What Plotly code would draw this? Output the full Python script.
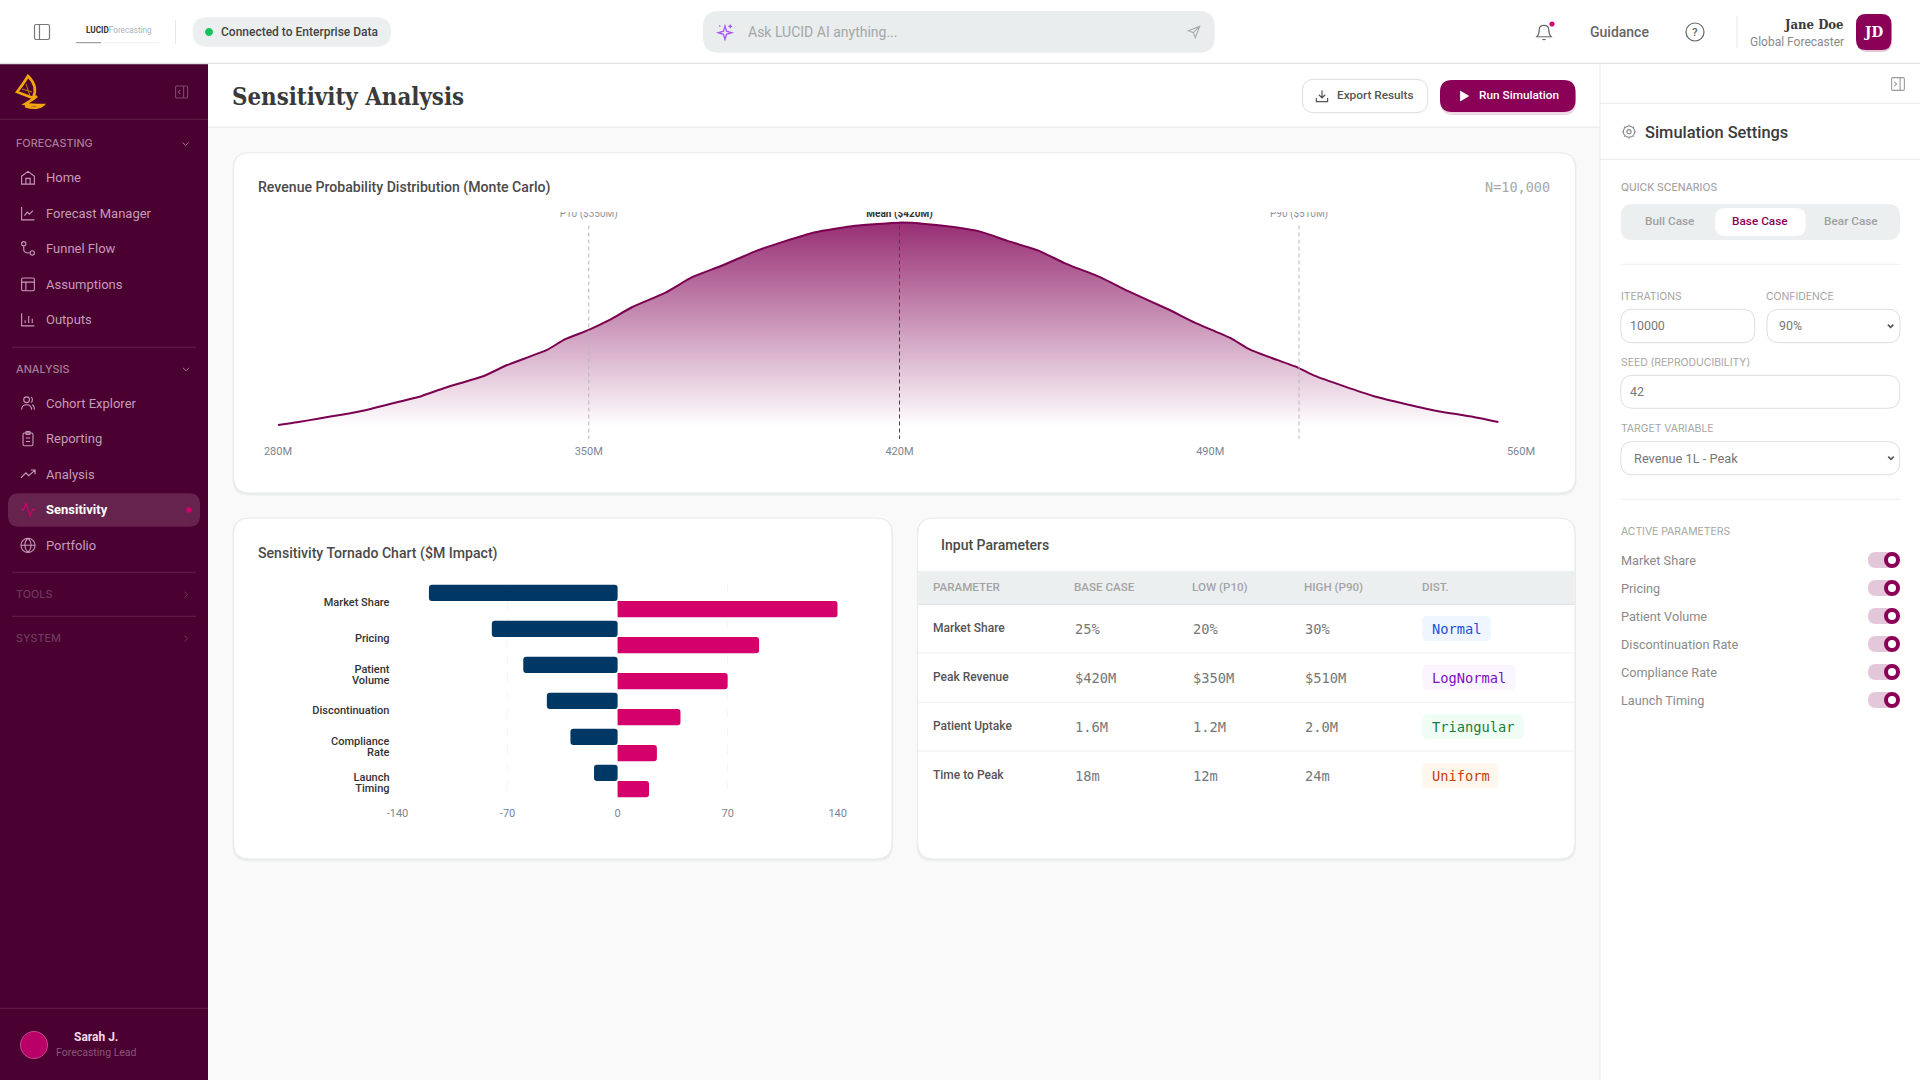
import re, math
import plotly.graph_objects as go

W, H = 1920, 1080

# ---- chart data ----
REVENUE_M = [280,284.3,289.3,294.3,299.4,304.4,312.4,317.5,326.5,331.5,340.6,344.6,350,354.7,359.7,367.3,373.3,379.8,387.9,393.9,401,410,420,
             425.2,432.2,438.2,444.2,451.3,457.3,465.4,471.4,480.5,486.5,494.5,499.1,509.6,513.6,526.7,532.8,540.8,548.8,554.9]
DENSITY = [1.0,2.3,4.2,6.0,8.1,10.8,15.2,19.1,25.1,30.2,37.7,42.9,47.5,52.4,58.6,65.8,73.3,78.8,86.3,90.7,95.3,98.5,100,
           99.5,97.9,95.6,91.2,86.3,80.1,73.1,66.6,57.6,51.1,43.6,37.7,29.2,25.0,15.2,11.9,8.0,5.1,2.4]
DIST_TICKS = [280,350,420,490,560]
DIST_TICK_LABELS = ["280M","350M","420M","490M","560M"]
MARK_X = [350,420,510]
MARK_LABELS = ["P10 ($350M)","Mean ($420M)","P90 ($510M)"]

TORNADO_CATS = ["Market Share","Pricing","Patient\nVolume","Discontinuation","Compliance\nRate","Launch\nTiming"]
TORNADO_LOW = [-120,-80,-60,-45,-30,-15]
TORNADO_HIGH = [140,90,70,40,25,20]
TORNADO_TICKS = [-140,-70,0,70,140]
TORNADO_TICK_LABELS = ["-140","-70","0","70","140"]

TABLE_HEAD = ["PARAMETER","BASE CASE","LOW (P10)","HIGH (P90)","DIST."]
TABLE_PARAM = ["Market Share","Peak Revenue","Patient Uptake","Time to Peak"]
TABLE_BASE = ["25%","$420M","1.6M","18m"]
TABLE_LOW = ["20%","$350M","1.2M","12m"]
TABLE_HIGH = ["30%","$510M","2.0M","24m"]
TABLE_DIST = ["Normal","LogNormal","Triangular","Uniform"]

NAV_FORECAST = ["Home","Forecast Manager","Funnel Flow","Assumptions","Outputs"]
NAV_ANALYSIS = ["Cohort Explorer","Reporting","Analysis","Sensitivity","Portfolio"]
ACTIVE_PARAMS = ["Market Share","Pricing","Patient Volume","Discontinuation Rate","Compliance Rate","Launch Timing"]

# ---- palette ----
PLUM="#4a0030"; MAG="#8a0057"; PINK="#d5006a"; NAVY="#003865"
LINE="#e6e8e8"; PANELBG="#f9f9fa"; ROB="Roboto"; MONO="DejaVu Sans Mono"; SLAB="DejaVu Serif Condensed"

shapes=[]; ann=[]

def fx(x): return x/W
def fy(y): return 1-y/H

def conv(path,ox=0,oy=0,s=1):
    out=[]
    toks=re.findall(r"[MLCQZ]|-?\d+\.?\d*",path)
    isx=True
    for t in toks:
        if t in "MLCQZ":
            out.append(t); isx=True
        else:
            v=float(t)
            if isx: out.append(f"{fx(ox+v*s):.6f}")
            else: out.append(f"{fy(oy+v*s):.6f}")
            isx=not isx
    return " ".join(out)

def shape(path,fill=None,line=None,lw=1,dash=None,ox=0,oy=0,s=1,layer="below"):
    d=dict(type="path",xref="paper",yref="paper",path=conv(path,ox,oy,s),layer=layer,
           fillcolor=fill if fill else "rgba(0,0,0,0)",
           line=dict(color=line if line else "rgba(0,0,0,0)",width=lw if line else 0))
    if dash: d["line"]["dash"]=dash
    shapes.append(d)

def rr(x0,y0,x1,y1,r):
    return (f"M{x0+r} {y0} L{x1-r} {y0} Q{x1} {y0} {x1} {y0+r} L{x1} {y1-r} Q{x1} {y1} {x1-r} {y1} "
            f"L{x0+r} {y1} Q{x0} {y1} {x0} {y1-r} L{x0} {y0+r} Q{x0} {y0} {x0+r} {y0} Z")

def rect(x0,y0,x1,y1,r=0,fill=None,line=None,lw=1):
    shape(rr(x0,y0,x1,y1,r) if r else f"M{x0} {y0} L{x1} {y0} L{x1} {y1} L{x0} {y1} Z",fill,line,lw)

def circ(cx,cy,r):
    k=0.5523*r
    return (f"M{cx+r} {cy} C{cx+r} {cy+k} {cx+k} {cy+r} {cx} {cy+r} C{cx-k} {cy+r} {cx-r} {cy+k} {cx-r} {cy} "
            f"C{cx-r} {cy-k} {cx-k} {cy-r} {cx} {cy-r} C{cx+k} {cy-r} {cx+r} {cy-k} {cx+r} {cy} Z")

def hline(x0,x1,y,c=LINE,w=1):
    shape(f"M{x0} {y} L{x1} {y}",None,c,w)

def t(x,y,s,size=12,color="#444",weight=400,fam=ROB,anchor="left"):
    dx={"left":-1.2,"right":1.4,"center":0}[anchor]
    ann.append(dict(xref="paper",yref="paper",x=fx(x+dx),y=fy(y),text=s,showarrow=False,xanchor=anchor,yanchor="middle",
                    borderpad=0,font=dict(family=fam,size=size,color=color,weight=weight)))

def icon(cx,cy,size,path,color,lw=1.3,fill=None):
    s=size/24
    shape(path,fill,color,lw,ox=cx-12*s,oy=cy-12*s,s=s)

I_HOME="M3 10 L12 3 L21 10 L21 21 L3 21 Z M9 21 L9 13 L15 13 L15 21"
I_LINE="M3 3 L3 21 L21 21 M7 15 L11 10 L14 13 L19 8"
I_FUNNEL=circ(6,5,3)+" M6 8 L6 14 C6 18 10 18 14 18 "+circ(18,18,3)
I_TABLE=rr(3,3,21,21,2)+" M3 9 L21 9 M9 9 L9 21"
I_BARS="M3 3 L3 21 L21 21 M8 17 L8 13 M13 17 L13 7 M18 17 L18 11"
I_USERS=circ(10,7,4)+" M3 21 C3 15 7 14 10 14 C13 14 17 15 17 21 M16 3 C19 4 19 10 16 11 M21 21 C21 17 20 15 18 14"
I_CLIP=rr(5,4,19,22,2)+" "+rr(9,2,15,6,1)+" M9 11 L15 11 M9 16 L15 16"
I_TREND="M2 17 L9 10 L13 14 L22 6 M16 6 L22 6 L22 12"
I_ACT="M2 12 L6 12 L9 3 L15 21 L18 12 L22 12"
I_GLOBE=circ(12,12,10)+" M2 12 L22 12 M12 2 C6 8 6 16 12 22 C18 16 18 8 12 2"
I_DOWN="M6 9 L12 15 L18 9"
I_RIGHT="M9 6 L15 12 L9 18"
I_PANL=rr(3,3,21,21,2)+" M15 3 L15 21 M10 9 L7 12 L10 15"
I_PANR=rr(3,3,21,21,2)+" M15 3 L15 21 M7 9 L10 12 L7 15"
I_SIDE=rr(3,3,21,21,2)+" M9 3 L9 21"
I_SPARK="M12 4 L14 11 L21 13 L14 15 L12 22 L10 15 L3 13 L10 11 Z M19 2 L19 7 M16.5 4.5 L21.5 4.5 M5 3 L5 5"
I_SEND="M21 3 L3 10 L11 13 L14 21 Z M21 3 L11 13"
I_BELL="M6 9 C6 2 18 2 18 9 C18 15 20 17 21 18 L3 18 C4 17 6 15 6 9 Z M10 21 C11 22 13 22 14 21"
I_DL="M12 3 L12 15 M7 10 L12 15 L17 10 M3 15 L3 21 L21 21 L21 15"
I_GEAR=circ(12,12,3)+" "+circ(12,12,8)+" M12 2 L12 4 M12 20 L12 22 M2 12 L4 12 M20 12 L22 12 M5 5 L6.5 6.5 M17.5 17.5 L19 19 M5 19 L6.5 17.5 M17.5 6.5 L19 5"
I_PLAY="M6 3 L21 12 L6 21 Z"

# ---- background panels ----
rect(0,64,208,1080,fill=PLUM)
rect(208,64,1600,1080,fill=PANELBG)
rect(0,0,1920,63,fill="#ffffff")
hline(0,1920,63.5,"#e2e4e4",1.5)
rect(208,64,1600,127,fill="#ffffff")
hline(208,1600,127,LINE,1)
rect(1600,64,1920,1080,fill="#ffffff")
shape("M1600 64 L1600 1080",None,LINE,1)
hline(1600,1920,103.3); hline(1600,1920,159.3)
icon(1898,84,17,I_PANR,"#9a9a9a",1.1)

# ---- header ----
icon(42,32,20,I_SIDE,"#777",1.2)
t(86,30,"<b>LUCID</b><span style='color:#aab2bd'>Forecasting</span>",8.2,"#333",400)
hline(76,101,42.7,"#8a8a8a",1); hline(101,159,42.7,"#f0f0f0",1)
shape("M175.5 20 L175.5 44",None,LINE,1)
rect(192.6,17.3,391,46.7,14.7,fill="#eceff0")
shape(circ(209,32,4),"#12c45c")
t(221,32,"Connected to Enterprise Data",12,"#444",500)
rect(703,11,1214.7,52.7,16,fill="#e9eded")
icon(725,32,18,I_SPARK,"#a855f7",1.3)
t(747.8,32,"Ask LUCID AI anything...",14,"#a3a8a8")
icon(1194,32,15,I_SEND,"#a9adad",1.1)
icon(1544,32,19,I_BELL,"#666",1.2)
shape(circ(1552,24,2.6),PINK)
t(1619,32,"Guidance",14,"#666",500,anchor="center")
shape(circ(1695,32,9),None,"#666",1.2)
t(1695,32,"?",11.5,"#666",500,anchor="center")
shape("M1737 16 L1737 48",None,LINE,1)
t(1843.7,24,"Jane Doe",13,"#3a3a3a",700,SLAB,"right")
t(1843.7,41.7,"Global Forecaster",12,"#8a8a8a",400,anchor="right")
rect(1857,16,1892,52,10,fill="#e5c7da")
rect(1856,14,1891.4,50,10,fill=MAG)
t(1873.7,32,"JD",15,"#fff",700,SLAB,"center")

# ---- sidebar ----
shape("M28 76 C24 83 20 88 17 92 L33 98 C36 92 36 84 28 76 Z",None,"#f2a50c",2.6)
shape("M37 96 C33 100 28 102 25 104 C32 105 38 105 43 105 C40 108 33 109 25 106",None,"#f2a50c",2.6)
shape("M22 89 L32 92 M26 84 L30 96",None,"#b97f10",1)
icon(181.6,92,16,I_PANL,"#7d4a6b",1.1)
hline(0,208,119.3,"#62204a")
t(16,143.3,"FORECASTING",10.8,"#a97c9a",500,"Inter")
icon(185.7,144,12,I_DOWN,"#a97c9a",1)
NAVC="#c69bb8"
for lab,y,ic in zip(NAV_FORECAST,[177.7,213.5,248.7,284.3,319.5],[I_HOME,I_LINE,I_FUNNEL,I_TABLE,I_BARS]):
    icon(28,y,17,ic,NAVC,1.1); t(46,y,lab,13,NAVC)
hline(12,196,347.3,"#62204a")
t(16,369.3,"ANALYSIS",10.8,"#a97c9a",500,"Inter")
icon(186,369.3,12,I_DOWN,"#a97c9a",1)
rect(8,493.3,200,526.7,11,fill="#66234e")
for lab,y,ic in zip(NAV_ANALYSIS,[403.3,438.7,474.3,509.6,545.3],[I_USERS,I_CLIP,I_TREND,I_ACT,I_GLOBE]):
    act=lab=="Sensitivity"
    icon(28,y,17,ic,PINK if act else NAVC,1.1)
    t(46.3,y,lab,13,"#ffffff" if act else NAVC,700 if act else 400)
shape(circ(189,510,2.8),PINK)
hline(12,196,572.3,"#62204a")
t(16,594.7,"TOOLS",10.8,"#6e3a5e",500,"Inter"); icon(186,594.7,12,I_RIGHT,"#6e3a5e",1)
hline(12,196,616.3,"#62204a")
t(16,638.7,"SYSTEM",10.8,"#6e3a5e",500,"Inter"); icon(186,638.7,12,I_RIGHT,"#6e3a5e",1)
hline(0,208,1008.3,"#62204a")
shape(circ(34,1045,13.5),"#b80068","#c94a90",1)
t(96,1037,"Sarah J.",12,"#f3d9e8",700,anchor="center")
t(96,1052.7,"Forecasting Lead",10.5,"#8a5578",anchor="center")

# ---- page title ----
t(232.6,96.5,"Sensitivity Analysis",23.8,"#3a3a3a",700,SLAB)
rect(1302.4,79.3,1427.8,112.7,12,fill="#fff",line="#dcdfdf")
icon(1322,96,15,I_DL,"#555",1.2)
t(1337,95.5,"Export Results",11.8,"#555",500)
rect(1441,82,1576,115,12,fill="#ecd9e5")
rect(1440,80,1575.5,112,12,fill=MAG)
icon(1463.7,96,13,I_PLAY,"#fff",0.8,"#fff")
t(1478.8,95.5,"Run Simulation",11.8,"#fff",500)

# ---- cards ----
def card(x0,y0,x1,y1):
    rect(x0-1,y0,x1+1,y1+2.5,16,fill="#eceeee")
    rect(x0,y0,x1,y1,16,fill="#fff",line="#e8eaea",lw=1)
card(233.5,152.7,1575.5,493)
card(233.5,518,892,859)
card(917.7,518,1575,859)
TITLEC="#4a4a4a"
t(258.3,187.3,"Revenue Probability Distribution (Monte Carlo)",14.1,TITLEC,500)
t(1550,187.3,"N=10,000",13.5,"#a8a8a8",400,MONO,"right")
t(258.3,553.3,"Sensitivity Tornado Chart ($M Impact)",14.1,TITLEC,500)
t(941.6,545.3,"Input Parameters",14,TITLEC,500)

# ---- table ----
rect(918.2,571,1574.5,604.3,fill="#eceff0")
hline(918.2,1574.5,604.3,"#dfe2e2",1)
for y in [653,702.3,751]: hline(918.2,1574.5,y,"#f0f1f1",1)
COLX=[933.5,1073.7,1192,1304.4,1422.4]
for x,h in zip(COLX,TABLE_HEAD): t(x,587.3,h,11.6,"#a4a4a4",500)
BADGE=[("#eff6ff","#1d4ed8",1490.8),("#faf5ff","#7e0fc4",1515.6),("#f0fdf4","#15803d",1524),("#fff7ed","#c2410c",1498.5)]
ROWY=[628.5,677.5,726.5,775.5]
for i,y in enumerate(ROWY):
    t(COLX[0],y-1,TABLE_PARAM[i],12,"#555",500)
    for x,v in zip(COLX[1:4],(TABLE_BASE[i],TABLE_LOW[i],TABLE_HIGH[i])):
        t(x+1,y,v,13.7,"#777",400,MONO)
    bg,fg,xe=BADGE[i]
    rect(1422.4,y-12.5,xe,y+12.5,5,fill=bg)
    t(1432,y,TABLE_DIST[i],13.7,fg,400,MONO)

# ---- settings panel ----
icon(1629,131.7,17,I_GEAR,"#8a8a8a",1.1)
t(1645.3,132,"Simulation Settings",16.4,"#3b3b3b",500)
LBL="#a5a5a5"
CAPF="Inter"
t(1620.8,187.3,"QUICK SCENARIOS",10.4,LBL,500,CAPF)
rect(1620.8,204,1900,240,12,fill="#eceff0")
rect(1715,208,1805.7,236,10,fill="#fff")
t(1669.8,221.3,"Bull Case",11.8,"#a0a0a0",500,anchor="center")
t(1760,221.3,"Base Case",11.8,MAG,500,anchor="center")
t(1850.6,221.3,"Bear Case",11.8,"#a0a0a0",500,anchor="center")
hline(1620.8,1900,264.3,"#eef0f0")
t(1620.8,296,"ITERATIONS",10.4,LBL,400,CAPF)
t(1766.5,296,"CONFIDENCE",10.4,LBL,400,CAPF)
rect(1620.8,309.3,1754.7,342.7,12,fill="#fff",line="#dcdfdf")
t(1630.2,326,"10000",12.4,"#777")
rect(1767,309.3,1900,342.7,12,fill="#fff",line="#dcdfdf")
t(1779.6,326,"90%",12.4,"#777")
icon(1890.6,326,11,I_DOWN,"#555",1.6)
t(1620.8,362.7,"SEED (REPRODUCIBILITY)",10.4,LBL,400,CAPF)
rect(1620.8,375.3,1899.7,408.3,12,fill="#fff",line="#dcdfdf")
t(1630,392,"42",12.4,"#777")
t(1620.8,428,"TARGET VARIABLE",10.4,LBL,400,CAPF)
rect(1620.8,441.7,1899.7,474.7,12,fill="#fff",line="#dcdfdf")
t(1634.3,458,"Revenue 1L - Peak",12.8,"#777")
icon(1891,458,11,I_DOWN,"#555",1.6)
hline(1620.8,1900,499.3,"#eef0f0")
t(1620.8,531,"ACTIVE PARAMETERS",10.4,LBL,400,CAPF)
for lab,y in zip(ACTIVE_PARAMS,[560,588,616,644,672,700]):
    t(1620.8,y,lab,12.7,"#8a8a8a")
    rect(1868,y-8,1899.7,y+8,8,fill="#e5c7da")
    shape(circ(1892,y,6),"#fff",MAG,4)

# ---- figure + charts (through axes) ----
fig=go.Figure()
fig.add_trace(go.Scatter(x=REVENUE_M,y=DENSITY,mode="lines",xaxis="x",yaxis="y",
    line=dict(color="#7a0050",width=2,shape="spline",smoothing=0.5),
    fill="tozeroy",
    fillgradient=dict(type="vertical",start=0,stop=100,
        colorscale=[[0,"rgba(128,0,85,0)"],[1,"rgba(128,0,85,0.82)"]]),
    fillcolor="rgba(0,0,0,0)",hoverinfo="skip",showlegend=False))
MARK_COLORS=["#8b93a0","#333333","#8b93a0"]
fig.add_trace(go.Scatter(x=MARK_X,y=[103.8]*3,mode="text",text=[f"<b>{s}</b>" if s.startswith("Mean") else s for s in MARK_LABELS],
    textposition="middle center",textfont=dict(family=ROB,size=10,color=MARK_COLORS),cliponaxis=True,
    xaxis="x",yaxis="y",hoverinfo="skip",showlegend=False))
for mx,c in zip(MARK_X,["#b4b8bf","#444444","#b4b8bf"]):
    shapes.append(dict(type="line",xref="x",yref="y",x0=mx,x1=mx,y0=98.6,y1=-5.87,layer="above",
                       line=dict(color=c,width=1,dash="4px,3px")))

idx=list(range(len(TORNADO_CATS)))
fig.add_trace(go.Bar(y=idx,x=[-v for v in TORNADO_LOW],base=TORNADO_LOW,orientation="h",xaxis="x2",yaxis="y2",
    marker=dict(color=NAVY,cornerradius=3,line=dict(width=0)),hoverinfo="skip",showlegend=False))
fig.add_trace(go.Bar(y=idx,x=TORNADO_HIGH,orientation="h",xaxis="x2",yaxis="y2",
    marker=dict(color=PINK,cornerradius=3,line=dict(width=0)),hoverinfo="skip",showlegend=False))

tv=[];tt=[]
for i,c in enumerate(TORNADO_CATS):
    parts=c.split("\n")
    for j,p in enumerate(parts):
        tv.append(i+0.04+(j-(len(parts)-1)/2)*0.31); tt.append(p)

fig.update_layout(
    width=W,height=H,margin=dict(l=0,r=0,t=0,b=0,pad=0,autoexpand=False),autosize=False,
    paper_bgcolor="#ffffff",plot_bgcolor="rgba(0,0,0,0)",
    barmode="group",bargap=0.1,bargroupgap=0,showlegend=False,
    shapes=shapes,annotations=ann,
    xaxis=dict(domain=[278/W,1521/W],range=[280,560],tickvals=DIST_TICKS,ticktext=DIST_TICK_LABELS,
        showgrid=False,zeroline=False,showline=False,ticks="",ticklabelstandoff=4,automargin=False,
        tickfont=dict(family=ROB,size=11,color="#7c8594"),anchor="y"),
    yaxis=dict(domain=[1-439/H,1-212/H],range=[-5.87,105.2],visible=False,anchor="x",automargin=False),
    xaxis2=dict(domain=[397.5/W,837.7/W],range=[-140,140],tickvals=TORNADO_TICKS,ticktext=TORNADO_TICK_LABELS,
        showgrid=True,gridcolor="#f4f5f6",griddash="dash",gridwidth=1,zeroline=False,showline=False,ticks="",automargin=False,
        ticklabelstandoff=6,tickfont=dict(family=ROB,size=11,color="#7c8594"),anchor="y2"),
    yaxis2=dict(domain=[1-799/H,1-583/H],range=[5.5,-0.5],tickvals=tv,ticktext=tt,showgrid=False,zeroline=False,automargin=False,
        showline=False,ticks="",ticklabelstandoff=7,tickfont=dict(family=ROB,size=11,color="#333333",weight=500),anchor="x2"),
)
fig.write_html("out.html",config={"displayModeBar":False},
               post_script="document.body.style.margin='0';document.body.style.overflow='hidden';")
